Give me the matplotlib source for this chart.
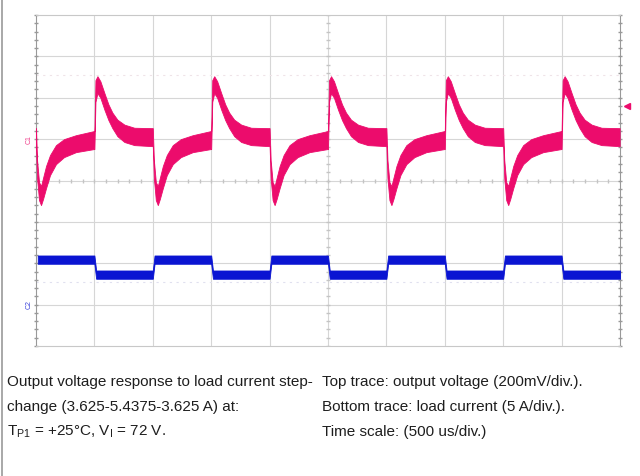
import matplotlib.pyplot as plt
import numpy as np

plt.rcParams['font.family'] = ['Liberation Sans', 'DejaVu Sans']
plt.rcParams['mathtext.fontset'] = 'custom'
plt.rcParams['mathtext.rm'] = 'Liberation Sans'

# Scope settings
v_scale = 200.0    # mV/div
i_scale = 5.0      # A/div
t_scale = 500.0    # us/div
v_ref = 5.0        # C1 marker position (div)
i_ref = 1.0        # C2 marker position (div)

# Output voltage envelope after load release (us, mV top, mV bottom)
up_t = [0, 9, 26, 51, 86, 120, 154, 197, 257, 342, 497]
up_top = [39, 285, 304, 280, 222, 168, 128, 94, 70, 55, 53]
up_bot = [-48, 180, 222, 200, 142, 92, 53, 14, -14, -29, -34]

# Output voltage envelope after load step up
dn_t = [0, 9, 26, 43, 60, 86, 120, 171, 240, 342, 497]
dn_top = [53, -101, -208, -227, -188, -130, -77, -29, 0, 19, 39]
dn_bot = [-34, -188, -295, -319, -290, -237, -174, -121, -87, -63, -48]

# Load current steps (A)
i_levels = [5.4375, 3.625]
i_noise = 0.5      # A, half width of the trace
n_periods = 5

pink = '#ec0c6c'
blue = '#0a14d2'

fig = plt.figure(figsize=(6.4, 4.76), dpi=100)
ax = fig.add_axes([36/640, 130/476, 584/640, 331/476])

# build voltage trace
t, top, bot = [], [], []
for k in range(n_periods):
    for ts, tp, bt, off in ((dn_t, dn_top, dn_bot, 0), (up_t, up_top, up_bot, 500)):
        t += [x + k*1000 + off for x in ts]
        top += tp
        bot += bt
t = np.array(t) / t_scale
top = v_ref + np.array(top) / v_scale
bot = v_ref + np.array(bot) / v_scale
ax.fill_between(t, bot, top, color=pink, lw=0.6, ec=pink, zorder=3)

# build current trace
ct, cl = [], []
for k in range(2 * n_periods):
    lev = i_levels[k % 2]
    ct += [k*500 + 15, k*500 + 500]
    cl += [lev, lev]
ct = np.array(ct) / t_scale
cl = i_ref + np.array(cl) / i_scale
ax.fill_between(ct, cl - i_noise/i_scale, cl + i_noise/i_scale,
                color=blue, lw=0.6, ec=blue, zorder=3)

# graticule
ax.set_xlim(0, 10)
ax.set_ylim(0, 8)
for x in range(1, 10):
    ax.axvline(x, color='#d6d6d6', lw=0.8, zorder=1)
for y in range(1, 8):
    ax.axhline(y, color='#d6d6d6', lw=0.8, zorder=1)
minor = np.arange(0, 10.01, 0.2)
ax.plot(minor, np.full_like(minor, 4), '|', color='#c4c4c4', ms=3, zorder=1)
minor_y = np.arange(0, 8.01, 0.2)
ax.plot(np.full_like(minor_y, 5), minor_y, '_', color='#c4c4c4', ms=3, zorder=1)
ax.plot(np.full_like(minor_y, 0.0), minor_y, '_', color='#999999', ms=3, zorder=2, clip_on=False)
ax.plot(np.full_like(minor_y, 10.0), minor_y, '_', color='#999999', ms=3, zorder=2, clip_on=False)
ax.axhline(6.55, color='#efe3e8', lw=0.8, ls=(0, (2, 4)), zorder=1)
ax.axhline(1.55, color='#e0e0ef', lw=0.8, ls=(0, (2, 4)), zorder=1)

for s in ax.spines.values():
    s.set_color('#c8c8c8')
    s.set_linewidth(0.8)
ax.spines['left'].set_color('#999999')
ax.spines['right'].set_color('#999999')
ax.set_xticks([])
ax.set_yticks([])

# channel markers
ax.text(-0.12, v_ref, 'C1', color=pink, fontsize=5, rotation=90,
        ha='center', va='center', clip_on=False, alpha=0.8)
ax.text(-0.12, i_ref, 'C2', color=blue, fontsize=5, rotation=90,
        ha='center', va='center', clip_on=False, alpha=0.8)
ax.plot([10.12], [5.8], marker='<', color=pink, ms=4, clip_on=False)

# left page border
fig.add_artist(plt.Line2D([1.5/640, 1.5/640], [0, 1], color='#999999', lw=1.2))

tc = '#1e1e1e'
fs = 11
fig.text(7/640, 1 - 382/476, 'Output voltage response to load current step-',
         fontsize=fs, color=tc, va='center')
fig.text(7/640, 1 - 407/476, 'change (3.625-5.4375-3.625 A) at:',
         fontsize=fs, color=tc, va='center')
fig.text(7/640, 1 - 432/476, r'T$_{\mathrm{P1}}$ = +25°C, V$_{\mathrm{I}}$ = 72 V.',
         fontsize=fs, color=tc, va='center')
fig.text(322/640, 1 - 382/476, 'Top trace: output voltage (200mV/div.).',
         fontsize=fs, color=tc, va='center')
fig.text(322/640, 1 - 407/476, 'Bottom trace: load current (5 A/div.).',
         fontsize=fs, color=tc, va='center')
fig.text(322/640, 1 - 432/476, 'Time scale: (500 us/div.)',
         fontsize=fs, color=tc, va='center')

fig.savefig('out.png', dpi=100)
